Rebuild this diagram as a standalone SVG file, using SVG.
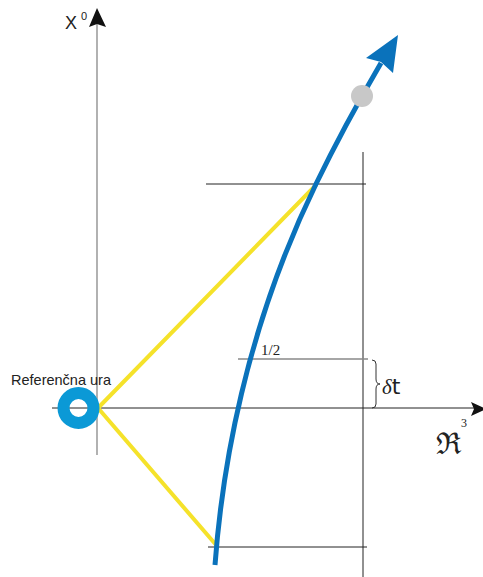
<svg xmlns="http://www.w3.org/2000/svg" width="483" height="577" viewBox="0 0 483 577">
<style>
.thin{stroke:#222;stroke-width:1;fill:none}
.gray{stroke:#888;stroke-width:1.3;fill:none}
.yel{stroke:#f5e22a;stroke-width:4;fill:none;stroke-linecap:round}
.blue{stroke:#0a72bb;stroke-width:5;fill:none}
.sans{font-family:"Liberation Sans",Arial,sans-serif;fill:#222}
.serif{font-family:"Liberation Serif","Times New Roman",serif;fill:#222}
</style>
<rect width="483" height="577" fill="#fff"/>
<g id="axes">
<line class="gray" x1="97" y1="455" x2="97" y2="24"/>
<polygon points="97,8 89,27 97,24 106,27" fill="#111"/>
<line class="thin" x1="52" y1="408" x2="476" y2="408"/>
<polygon points="486,409 471,402 474,409 471,416" fill="#111"/>
<text class="sans" x="65" y="29" font-size="18">X</text>
<text class="sans" x="81" y="20" font-size="11">0</text>
<text x="436" y="454" font-size="30" font-family="DejaVu Serif,serif" fill="#222">ℜ</text>
<text class="serif" x="461" y="427" font-size="12">3</text>
</g>
<g id="connectors">
<line class="thin" x1="363" y1="152" x2="363" y2="577"/>
<line class="thin" x1="206" y1="184" x2="366" y2="184"/>
<line class="gray" x1="238" y1="359" x2="368" y2="359"/>
<line class="thin" x1="208" y1="547" x2="367" y2="547"/>
<line class="yel" x1="98" y1="408" x2="316" y2="185"/>
<line class="yel" x1="98" y1="408" x2="217" y2="546"/>
<path class="blue" d="M215,565 C222,470 245,330 316,184 C332,151 357,104 381,63"/>
<polygon points="398,35 366,58 381,62 393,73" fill="#0a72bb"/>
<path d="M372,360 q4,0 4,4 v15 q0,5 4,5 q-4,0 -4,5 v15 q0,4 -4,4" fill="none" stroke="#333" stroke-width="1"/>
</g>
<g id="clock">
<circle cx="78.5" cy="408" r="15" fill="none" stroke="#0b99d6" stroke-width="12"/>
<text class="sans" x="11" y="385" font-size="14.5">Referenčna ura</text>
</g>
<g id="particle">
<circle cx="362" cy="96" r="11" fill="#c8c8c8"/>
</g>
<g id="labels">
<text class="serif" x="261" y="355" font-size="15">1/2</text>
<text x="382" y="394" font-size="22" font-family="DejaVu Sans,sans-serif" fill="#222"><tspan font-style="italic" font-family="Liberation Serif,serif" font-size="21">δ</tspan>t</text>
</g>
</svg>
